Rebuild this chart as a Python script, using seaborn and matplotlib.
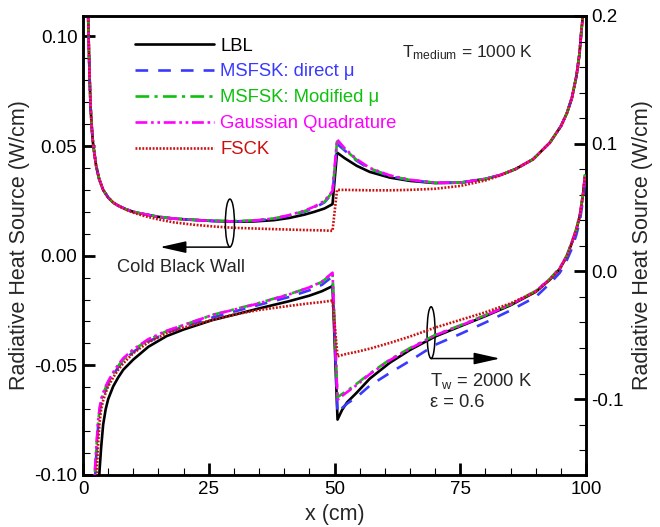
import matplotlib
matplotlib.use("Agg")
import matplotlib.pyplot as plt
import seaborn as sns
from matplotlib.patches import Ellipse
from matplotlib.ticker import MultipleLocator, FormatStrFormatter

# ---- upper group: cold black wall (left axis) ----
x_upper = [1.0, 1.1, 1.3, 1.5, 1.75, 2.0, 2.6, 3.2, 4, 5, 6, 7,
           8.5, 10, 12, 15, 18, 22, 26, 30, 34, 38, 41, 44,
           46, 48, 49.6, 50.5, 52, 54.4, 57, 61, 65, 70, 75, 80,
           83, 86, 89.5, 92.8, 95, 96.2, 97.2, 98.1, 98.7, 99.1, 99.5, 99.8]

lbl_upper = [0.112, 0.100, 0.082, 0.068, 0.058, 0.051, 0.041, 0.035, 0.030, 0.0265, 0.0242, 0.0228,
             0.0212, 0.0200, 0.0190, 0.0177, 0.0169, 0.0163, 0.0158, 0.0155, 0.0156, 0.0162, 0.0172, 0.0187,
             0.0200, 0.0215, 0.0235, 0.0470, 0.0445, 0.0410, 0.0382, 0.0356, 0.0341, 0.0331, 0.0333, 0.0350,
             0.0368, 0.0395, 0.0440, 0.0515, 0.0590, 0.0650, 0.0720, 0.0820, 0.0920, 0.1030, 0.1120, 0.1250]

direct_upper = [0.112, 0.100, 0.082, 0.068, 0.058, 0.051, 0.041, 0.035, 0.030, 0.0265, 0.0242, 0.0228,
                0.0212, 0.0200, 0.0190, 0.0177, 0.0169, 0.0163, 0.0158, 0.0156, 0.0159, 0.0168, 0.0182, 0.0200,
                0.0218, 0.0243, 0.0285, 0.0510, 0.0480, 0.0433, 0.0395, 0.0362, 0.0344, 0.0332, 0.0333, 0.0350,
                0.0368, 0.0395, 0.0440, 0.0515, 0.0590, 0.0650, 0.0720, 0.0820, 0.0920, 0.1030, 0.1120, 0.1250]

modified_upper = [0.112, 0.100, 0.082, 0.068, 0.058, 0.051, 0.041, 0.035, 0.030, 0.0265, 0.0242, 0.0228,
                  0.0212, 0.0200, 0.0190, 0.0178, 0.0170, 0.0164, 0.0160, 0.0158, 0.0161, 0.0170, 0.0184, 0.0203,
                  0.0221, 0.0246, 0.0290, 0.0520, 0.0485, 0.0437, 0.0398, 0.0364, 0.0345, 0.0333, 0.0333, 0.0350,
                  0.0368, 0.0395, 0.0440, 0.0515, 0.0590, 0.0650, 0.0720, 0.0820, 0.0920, 0.1030, 0.1120, 0.1250]

gauss_upper = [0.112, 0.100, 0.082, 0.068, 0.058, 0.051, 0.041, 0.035, 0.030, 0.0265, 0.0242, 0.0228,
               0.0212, 0.0200, 0.0190, 0.0177, 0.0169, 0.0163, 0.0158, 0.0156, 0.0160, 0.0170, 0.0185, 0.0205,
               0.0224, 0.0250, 0.0295, 0.0530, 0.0490, 0.0440, 0.0400, 0.0366, 0.0346, 0.0333, 0.0333, 0.0350,
               0.0368, 0.0395, 0.0440, 0.0515, 0.0590, 0.0650, 0.0720, 0.0820, 0.0920, 0.1030, 0.1120, 0.1250]

fsck_upper = [0.112, 0.100, 0.082, 0.068, 0.058, 0.051, 0.041, 0.035, 0.030, 0.0265, 0.0242, 0.0228,
              0.0210, 0.0196, 0.0182, 0.0165, 0.0152, 0.0141, 0.0133, 0.0127, 0.0124, 0.0121, 0.0119, 0.0117,
              0.0116, 0.0115, 0.0113, 0.0300, 0.0300, 0.0299, 0.0298, 0.0298, 0.0300, 0.0305, 0.0318, 0.0343,
              0.0366, 0.0395, 0.0440, 0.0515, 0.0590, 0.0650, 0.0720, 0.0820, 0.0920, 0.1030, 0.1120, 0.1250]

# ---- lower group: Tw = 2000 K, eps = 0.6 (right axis) ----
x_lower = [2.0, 2.3, 2.6, 3.0, 3.3, 3.6, 4.0, 4.5, 5, 6, 7, 8,
           10, 13, 16.6, 20, 25.8, 30, 35, 41, 45, 47.5, 49.6, 50.6,
           51.5, 52.5, 54.4, 57, 61, 65, 70, 75, 80, 85, 90, 92.8,
           94.8, 96.2, 97.2, 98.1, 98.8, 99.4, 99.8]

lbl_lower = [-0.30, -0.25, -0.21, -0.175, -0.155, -0.138, -0.120, -0.108, -0.100, -0.090, -0.083, -0.077,
             -0.069, -0.059, -0.0507, -0.0455, -0.0380, -0.0340, -0.0290, -0.0233, -0.0190, -0.0155, -0.0115, -0.1160,
             -0.1085, -0.1025, -0.0950, -0.0840, -0.0715, -0.0615, -0.0510, -0.0430, -0.0350, -0.0265, -0.0160, -0.0065,
             0.0020, 0.0120, 0.0225, 0.0330, 0.0440, 0.0600, 0.0750]

direct_lower = [-0.21, -0.168, -0.146, -0.121, -0.110, -0.103, -0.098, -0.093, -0.088, -0.081, -0.075, -0.070,
                -0.063, -0.055, -0.0480, -0.0432, -0.0360, -0.0315, -0.0262, -0.0200, -0.0148, -0.0105, -0.0040, -0.1110,
                -0.1070, -0.1035, -0.0985, -0.0895, -0.0795, -0.0700, -0.0575, -0.0490, -0.0400, -0.0305, -0.0200, -0.0095,
                -0.0010, 0.0090, 0.0180, 0.0290, 0.0400, 0.0560, 0.0700]

modified_lower = [-0.20, -0.162, -0.142, -0.118, -0.108, -0.101, -0.096, -0.091, -0.087, -0.080, -0.074, -0.069,
                  -0.0615, -0.0535, -0.0468, -0.0420, -0.0340, -0.0298, -0.0247, -0.0178, -0.0125, -0.0082, -0.0015, -0.0985,
                  -0.0960, -0.0935, -0.0880, -0.0800, -0.0690, -0.0600, -0.0498, -0.0422, -0.0342, -0.0258, -0.0153, -0.0058,
                  0.0028, 0.0128, 0.0233, 0.0338, 0.0448, 0.0610, 0.0760]

gauss_lower = [-0.20, -0.160, -0.140, -0.117, -0.107, -0.100, -0.095, -0.090, -0.086, -0.079, -0.073, -0.068,
               -0.061, -0.053, -0.0465, -0.0420, -0.0340, -0.0300, -0.0250, -0.0180, -0.0125, -0.0080, -0.0010, -0.1005,
               -0.0975, -0.0945, -0.0890, -0.0805, -0.0695, -0.0605, -0.0500, -0.0425, -0.0345, -0.0260, -0.0155, -0.0060,
               0.0025, 0.0125, 0.0230, 0.0335, 0.0445, 0.0605, 0.0755]

fsck_lower = [-0.24, -0.20, -0.168, -0.135, -0.118, -0.108, -0.101, -0.095, -0.090, -0.083, -0.077, -0.072,
              -0.064, -0.0555, -0.0485, -0.0440, -0.0378, -0.0338, -0.0302, -0.0270, -0.0250, -0.0240, -0.0228, -0.0665,
              -0.0655, -0.0645, -0.0630, -0.0605, -0.0560, -0.0510, -0.0440, -0.0380, -0.0320, -0.0250, -0.0160, -0.0065,
              0.0020, 0.0120, 0.0225, 0.0330, 0.0440, 0.0600, 0.0750]

labels = ["LBL", "MSFSK: direct \u03bc", "MSFSK: Modified \u03bc", "Gaussian Quadrature", "FSCK"]
colors = ["black", "#3a3aff", "#10c010", "#ff00ff", "#cc1010"]
styles = ["-", (0, (4.8, 3.8)), (0, (5.2, 2, 1.2, 2)), (0, (4.5, 1.4, 1, 1.4, 1, 1.4)), (0, (0.7, 0.6))]

upper = [lbl_upper, direct_upper, modified_upper, gauss_upper, fsck_upper]
lower = [lbl_lower, direct_lower, modified_lower, gauss_lower, fsck_lower]

sns.set_style("ticks")
plt.rcParams['font.family'] = ['Liberation Sans', 'DejaVu Sans']
plt.rcParams['axes.unicode_minus'] = False
plt.rcParams['mathtext.fontset'] = 'custom'
plt.rcParams['mathtext.rm'] = 'Liberation Sans'
plt.rcParams['mathtext.it'] = 'Liberation Sans:italic'

fig = plt.figure(figsize=(6.6, 5.27), dpi=100)
ax = fig.add_axes([0.1258, 0.0987, 0.7621, 0.871])
ax2 = ax.twinx()

order = [0, 1, 3, 2, 4]  # drawing order
handles = {}
for i in order:
    sns.lineplot(x=x_upper, y=upper[i], ax=ax, color=colors[i], linestyle=styles[i],
                 lw=1.9, label=labels[i], estimator=None, sort=False, zorder=3 + i)
    handles[i] = ax.lines[-1]
    sns.lineplot(x=x_lower, y=lower[i], ax=ax2, color=colors[i], linestyle=styles[i],
                 lw=1.9, estimator=None, sort=False, legend=False, zorder=3 + i)

ax.set_xlim(0, 100)
ax.set_ylim(-0.10, 0.1093)
ax2.set_ylim(-0.1594, 0.2)

ax.xaxis.set_major_locator(MultipleLocator(25))
ax.xaxis.set_minor_locator(MultipleLocator(5))
ax.yaxis.set_major_locator(MultipleLocator(0.05))
ax.yaxis.set_minor_locator(MultipleLocator(0.01))
ax.yaxis.set_major_formatter(FormatStrFormatter("%.2f"))
ax2.yaxis.set_major_locator(MultipleLocator(0.1))
ax2.yaxis.set_minor_locator(MultipleLocator(0.02))
ax2.yaxis.set_major_formatter(FormatStrFormatter("%.1f"))

for a in (ax, ax2):
    for s in a.spines.values():
        s.set_linewidth(1.8)
        s.set_color("black")
    a.tick_params(which="major", direction="in", length=8.5, width=2, labelsize=13.5, colors="black", pad=4)
    a.tick_params(which="minor", direction="in", length=5, width=0.8, colors="black")
ax.tick_params(axis="both", which="both", top=False, right=False)
ax2.tick_params(axis="y", which="both", left=False, right=True)

ax.set_xlabel("x (cm)", fontsize=15.5, labelpad=5)
ax.set_ylabel("Radiative Heat Source (W/cm)", fontsize=15.5, labelpad=3)
ax2.set_ylabel("Radiative Heat Source (W/cm)", fontsize=15.5, labelpad=6)
ax2.grid(False)
ax.grid(False)

leg = ax.legend([handles[i] for i in range(5)], labels, loc="upper left",
                bbox_to_anchor=(0.103, 0.953), frameon=False, borderpad=0, borderaxespad=0,
                handlelength=4.3, handletextpad=0.32, labelspacing=0.48, fontsize=13.3)
for t, c in zip(leg.get_texts(), colors):
    t.set_color(c)

# annotations
ax.add_patch(Ellipse((29.2, 0.0149), 1.8, 0.0218, fill=False, ec="black", lw=1.1, zorder=10))
ax.annotate("", xy=(15.3, 0.0039), xytext=(29.2, 0.0039),
            arrowprops=dict(arrowstyle="-|>,head_length=0.8,head_width=0.18", color="black",
                            lw=1.1, shrinkA=0, shrinkB=0, mutation_scale=20))
ax.text(6.8, -0.0074, "Cold Black Wall", fontsize=13.2, va="baseline", ha="left")

ax.add_patch(Ellipse((69.2, -0.0351), 1.6, 0.0236, fill=False, ec="black", lw=1.1, zorder=10))
ax.annotate("", xy=(82.9, -0.0469), xytext=(69.2, -0.0469),
            arrowprops=dict(arrowstyle="-|>,head_length=0.8,head_width=0.18", color="black",
                            lw=1.1, shrinkA=0, shrinkB=0, mutation_scale=20))
ax.text(69.0, -0.0592, r"T$_{\mathrm{w}}$ = 2000 K", fontsize=13.2, va="baseline", ha="left")
ax.text(69.0, -0.0692, "\u03b5 = 0.6", fontsize=13.2, va="baseline", ha="left")

ax.text(63.4, 0.0903, r"T$_{\mathrm{medium}}$ = 1000 K", fontsize=12.5, va="baseline", ha="left")

fig.savefig("out.png", dpi=100)
